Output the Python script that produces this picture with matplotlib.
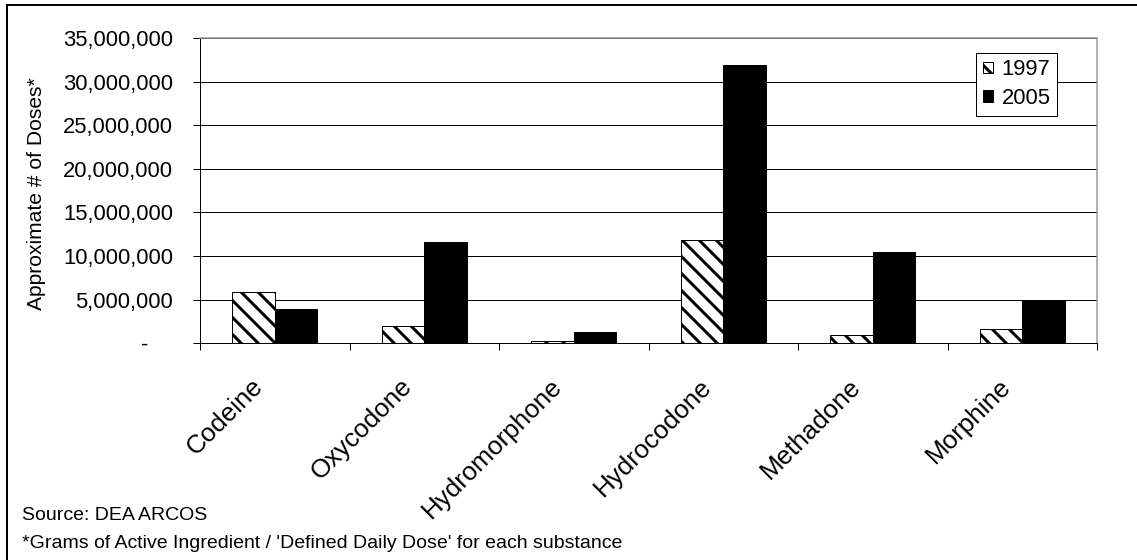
import numpy as np
import matplotlib
matplotlib.use("Agg")
import matplotlib.pyplot as plt
import matplotlib.transforms as mtransforms
from matplotlib.patches import Rectangle
from matplotlib.ticker import FuncFormatter, MultipleLocator, FixedLocator

# data
drugs = ["Codeine", "Oxycodone", "Hydromorphone", "Hydrocodone", "Methadone", "Morphine"]
doses_1997 = [5850000, 1950000, 310000, 11890000, 920000, 1640000]
doses_2005 = [3940000, 11620000, 1260000, 31920000, 10510000, 5000000]
years = ["1997", "2005"]

# dpi chosen so the hatch tile (72pt) is 51px -> stripes every ~8.5px
W, H, DPI = 1137, 560, 51


def px(v):
    # pixel size -> points
    return v * 72.0 / DPI


plt.rcParams['font.family'] = ['Liberation Sans', 'DejaVu Sans']
plt.rcParams['hatch.linewidth'] = px(3.0)

fig = plt.figure(figsize=(W / DPI, H / DPI), dpi=DPI)
ax = fig.add_axes([200 / W, 1 - 343.3 / H, 897 / W, 305.3 / H])

x = np.arange(len(drugs))
bw = 1 / 3.5
ax.bar(x - bw / 2, doses_1997, bw, facecolor='white', edgecolor='black',
       hatch='\\', linewidth=px(1), label=years[0], zorder=3)
ax.bar(x + bw / 2, doses_2005, bw, facecolor='black', edgecolor='black',
       linewidth=px(1), label=years[1], zorder=3)

ax.set_xlim(-0.5, len(drugs) - 0.5)
ax.set_ylim(0, 35000000)

# y axis
ax.yaxis.set_major_locator(MultipleLocator(5000000))
ax.yaxis.set_major_formatter(FuncFormatter(lambda v, p: "-    " if v == 0 else f"{int(v):,}"))
ax.tick_params(axis='y', direction='out', length=px(7), width=px(1), pad=px(20),
               labelsize=px(22), colors='black')
ax.grid(axis='y', color='black', linewidth=px(1), zorder=0)
ax.set_axisbelow(True)

# x axis: ticks between categories, labels at centers
ax.set_xticks(x)
ax.set_xticklabels(drugs, rotation=45, ha='right', va='top', rotation_mode='anchor')
ax.xaxis.set_minor_locator(FixedLocator(np.arange(-0.5, len(drugs), 1.0)))
ax.tick_params(axis='x', which='major', length=0, pad=px(31), labelsize=px(26))
ax.tick_params(axis='x', which='minor', direction='out', length=px(7), width=px(1), color='black')
shift = mtransforms.ScaledTranslation(-24 / DPI, 0, fig.dpi_scale_trans)
for lab in ax.get_xticklabels():
    lab.set_transform(lab.get_transform() + shift)

for side in ['left', 'bottom']:
    ax.spines[side].set_color('black')
    ax.spines[side].set_linewidth(px(1))
for side in ['top', 'right']:
    ax.spines[side].set_color('#9a9a9a')
    ax.spines[side].set_linewidth(px(1.5))

fig.text(37 / W, 1 - 194 / H, "Approximate # of Doses*", rotation=90,
         ha='center', va='center', fontsize=px(21))

leg = ax.legend(loc='upper right', bbox_to_anchor=(1057 / W, 1 - 52.7 / H),
                bbox_transform=fig.transFigure, borderaxespad=0, fontsize=px(22),
                handlelength=0.45, handleheight=0.45, handletextpad=0.4,
                labelspacing=0.35, borderpad=0.3, fancybox=False, framealpha=1)
leg.get_frame().set_edgecolor('black')
leg.get_frame().set_linewidth(px(1))

fig.text(22 / W, 1 - 516 / H, "Source: DEA ARCOS", ha='left', va='center', fontsize=px(19.5))
fig.text(22 / W, 1 - 544 / H, "*Grams of Active Ingredient / 'Defined Daily Dose' for each substance",
         ha='left', va='center', fontsize=px(19.5))

# outer chart border (left and top visible)
fig.add_artist(Rectangle((6.5 / W, -0.1), 1.2, 1.1 - 4.5 / H, transform=fig.transFigure,
                         fill=False, edgecolor='black', linewidth=px(2)))

fig.savefig("out.png", dpi=DPI, facecolor='white')
